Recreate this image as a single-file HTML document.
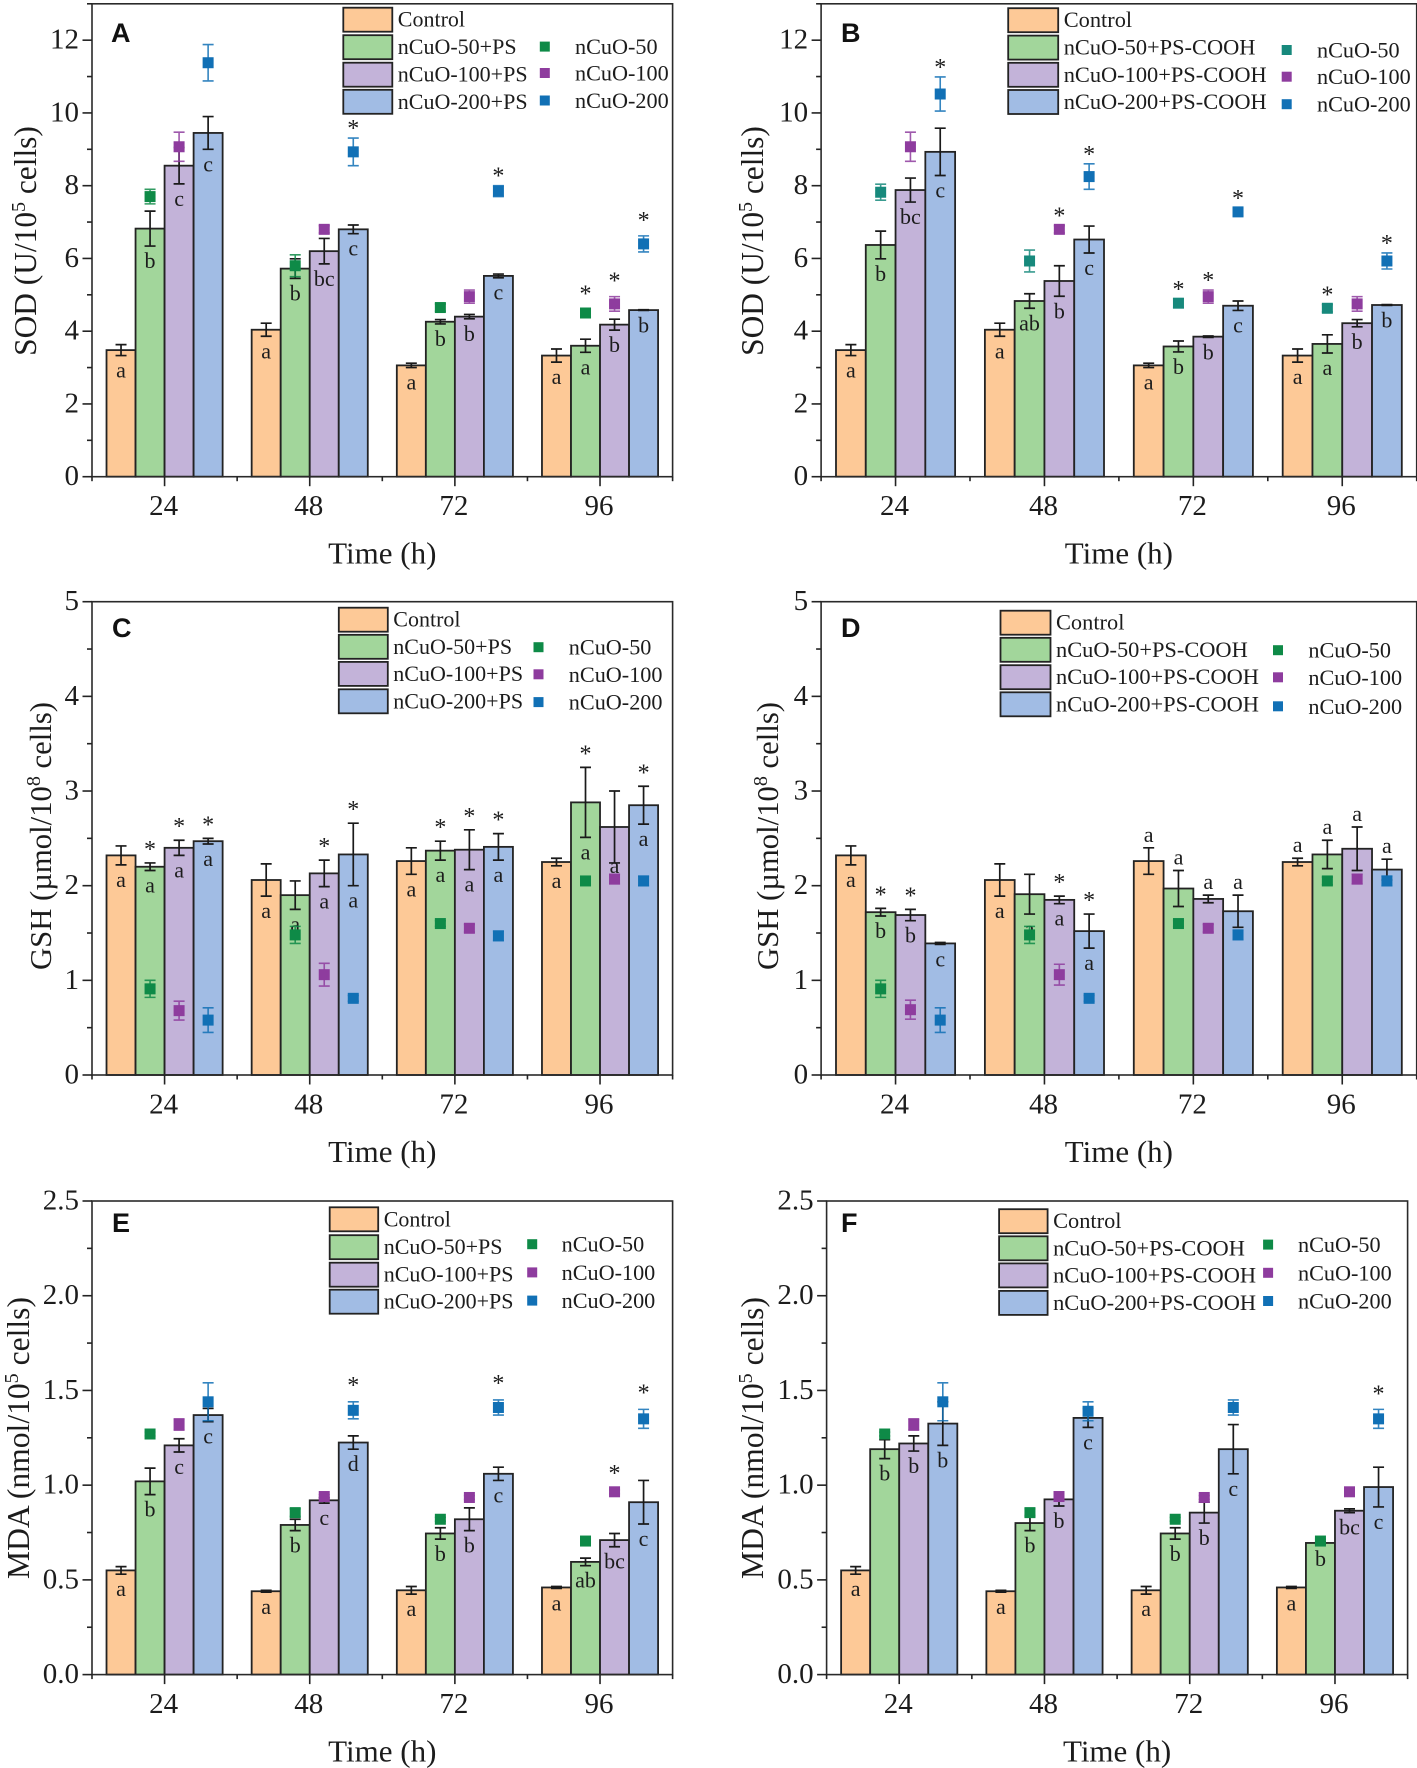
<!DOCTYPE html>
<html lang="en">
<head>
<meta charset="utf-8">
<title>SOD, GSH and MDA responses to nCuO and polystyrene</title>
<style>
html,body{margin:0;padding:0;background:#fff;width:1417px;height:1768px;overflow:hidden}
svg{display:block}
text{font-family:"Liberation Serif","DejaVu Serif",serif;fill:#1c1c1c}
.panel-letter{font-family:"Liberation Sans","DejaVu Sans",sans-serif;font-weight:700;font-size:27px;fill:#111}
</style>
</head>
<body>
<svg id="figure" xmlns="http://www.w3.org/2000/svg" width="1417" height="1768" viewBox="0 0 1417 1768"></svg>
<script>
// ---------- shared data ----------
const categories = ['24', '48', '72', '96'];
const sodTicks = [0, 2, 4, 6, 8, 10, 12];
const gshTicks = [0, 1, 2, 3, 4, 5];
const mdaTicks = [0, 0.5, 1.0, 1.5, 2.0, 2.5];

// Panel A - SOD, PS
const aControl = [3.48, 4.04, 3.06, 3.33];
const aControlErr = [0.15, 0.18, 0.06, 0.18];
const aBar50 = [6.82, 5.72, 4.26, 3.60];
const aBar50Err = [0.48, 0.27, 0.06, 0.18];
const aBar100 = [8.55, 6.20, 4.40, 4.18];
const aBar100Err = [0.50, 0.35, 0.06, 0.15];
const aBar200 = [9.45, 6.80, 5.52, 4.58];
const aBar200Err = [0.45, 0.12, 0.05, 0.01];
const aDot50 = [7.70, 5.80, 4.65, 4.50];
const aDot50Err = [0.20, 0.30, 0.10, 0.10];
const aDot100 = [9.07, 6.80, 4.95, 4.75];
const aDot100Err = [0.40, 0.10, 0.18, 0.20];
const aDot200 = [11.38, 8.93, 7.85, 6.40];
const aDot200Err = [0.50, 0.38, 0.15, 0.22];
const aLetters = [['a','a','a','a'],['b','b','b','a'],['c','bc','b','b'],['c','c','c','b']];
const aDotStars = [[0,0,0,1],[0,0,0,1],[0,1,1,1]];
const aBarStars = [[0,0,0,0],[0,0,0,0],[0,0,0,0],[0,0,0,0]];

// Panel B - SOD, PS-COOH
const bControl = [3.48, 4.04, 3.06, 3.33];
const bControlErr = [0.15, 0.18, 0.06, 0.18];
const bBar50 = [6.37, 4.83, 3.58, 3.65];
const bBar50Err = [0.38, 0.20, 0.15, 0.25];
const bBar100 = [7.88, 5.38, 3.85, 4.22];
const bBar100Err = [0.33, 0.42, 0.02, 0.10];
const bBar200 = [8.93, 6.52, 4.70, 4.72];
const bBar200Err = [0.65, 0.37, 0.13, 0.01];
const bDot50 = [7.82, 5.93, 4.77, 4.63];
const bDot50Err = [0.22, 0.30, 0.12, 0.10];
const bDot100 = [9.07, 6.80, 4.95, 4.75];
const bDot100Err = [0.40, 0.10, 0.18, 0.20];
const bDot200 = [10.52, 8.25, 7.28, 5.93];
const bDot200Err = [0.47, 0.35, 0.10, 0.22];
const bLetters = [['a','a','a','a'],['b','ab','b','a'],['bc','b','b','b'],['c','c','c','b']];
const bDotStars = [[0,0,1,1],[0,1,1,0],[1,1,1,1]];
const bBarStars = [[0,0,0,0],[0,0,0,0],[0,0,0,0],[0,0,0,0]];

// Panel C - GSH, PS
const cControl = [2.32, 2.06, 2.26, 2.25];
const cControlErr = [0.10, 0.17, 0.14, 0.04];
const cBar50 = [2.20, 1.90, 2.37, 2.88];
const cBar50Err = [0.04, 0.15, 0.10, 0.37];
const cBar100 = [2.40, 2.13, 2.38, 2.62];
const cBar100Err = [0.08, 0.14, 0.21, 0.38];
const cBar200 = [2.47, 2.33, 2.41, 2.85];
const cBar200Err = [0.03, 0.33, 0.14, 0.20];
const cDot50 = [0.91, 1.48, 1.60, 2.05];
const cDot50Err = [0.09, 0.09, 0.03, 0.04];
const cDot100 = [0.68, 1.06, 1.55, 2.07];
const cDot100Err = [0.10, 0.12, 0.04, 0.05];
const cDot200 = [0.58, 0.81, 1.47, 2.05];
const cDot200Err = [0.13, 0.03, 0.05, 0.05];
const cLetters = [['a','a','a','a'],['a','a','a','a'],['a','a','a','a'],['a','a','a','a']];
const cDotStars = [[0,0,0,0],[0,0,0,0],[0,0,0,0]];
const cBarStars = [[0,0,0,0],[1,0,1,1],[1,1,1,0],[1,1,1,1]];

// Panel D - GSH, PS-COOH
const dControl = [2.32, 2.06, 2.26, 2.25];
const dControlErr = [0.10, 0.17, 0.14, 0.04];
const dBar50 = [1.72, 1.91, 1.97, 2.33];
const dBar50Err = [0.04, 0.21, 0.19, 0.15];
const dBar100 = [1.69, 1.85, 1.86, 2.39];
const dBar100Err = [0.06, 0.04, 0.04, 0.23];
const dBar200 = [1.39, 1.52, 1.73, 2.17];
const dBar200Err = [0.01, 0.18, 0.17, 0.11];
const dDot50 = [0.91, 1.48, 1.60, 2.05];
const dDot50Err = [0.09, 0.09, 0.03, 0.04];
const dDot100 = [0.69, 1.06, 1.55, 2.07];
const dDot100Err = [0.10, 0.11, 0.04, 0.05];
const dDot200 = [0.58, 0.81, 1.48, 2.05];
const dDot200Err = [0.13, 0.03, 0.05, 0.05];
const dLetters = [['a','a','a','a'],['b','a','a','a'],['b','a','a','a'],['c','a','a','a']];
const dLettersAbove = [[0,0,1,1],[0,0,1,1],[0,0,1,1],[0,0,1,1]];
const dDotStars = [[0,0,0,0],[0,0,0,0],[0,0,0,0]];
const dBarStars = [[0,0,0,0],[1,0,0,0],[1,1,0,0],[0,1,0,0]];

// Panel E - MDA, PS
const eControl = [0.55, 0.44, 0.445, 0.46];
const eControlErr = [0.02, 0.005, 0.02, 0.005];
const eBar50 = [1.02, 0.79, 0.745, 0.595];
const eBar50Err = [0.07, 0.03, 0.03, 0.02];
const eBar100 = [1.21, 0.92, 0.82, 0.71];
const eBar100Err = [0.035, 0.015, 0.06, 0.035];
const eBar200 = [1.37, 1.225, 1.06, 0.91];
const eBar200Err = [0.035, 0.035, 0.035, 0.115];
const eDot50 = [1.27, 0.855, 0.82, 0.705];
const eDot50Err = [0.01, 0.02, 0.01, 0.01];
const eDot100 = [1.32, 0.94, 0.935, 0.965];
const eDot100Err = [0.03, 0.01, 0.01, 0.01];
const eDot200 = [1.44, 1.395, 1.41, 1.35];
const eDot200Err = [0.10, 0.045, 0.04, 0.05];
const eLetters = [['a','a','a','a'],['b','b','b','ab'],['c','c','b','bc'],['c','d','c','c']];
const eDotStars = [[0,0,0,0],[0,0,0,1],[0,1,1,1]];
const eBarStars = [[0,0,0,0],[0,0,0,0],[0,0,0,0],[0,0,0,0]];

// Panel F - MDA, PS-COOH
const fControl = [0.55, 0.44, 0.445, 0.46];
const fControlErr = [0.02, 0.005, 0.02, 0.005];
const fBar50 = [1.19, 0.80, 0.745, 0.695];
const fBar50Err = [0.05, 0.04, 0.03, 0.005];
const fBar100 = [1.22, 0.925, 0.855, 0.865];
const fBar100Err = [0.04, 0.035, 0.055, 0.01];
const fBar200 = [1.325, 1.355, 1.19, 0.99];
const fBar200Err = [0.115, 0.05, 0.13, 0.105];
const fDot50 = [1.27, 0.855, 0.82, 0.705];
const fDot50Err = [0.01, 0.02, 0.01, 0.01];
const fDot100 = [1.32, 0.94, 0.935, 0.965];
const fDot100Err = [0.03, 0.01, 0.01, 0.01];
const fDot200 = [1.44, 1.39, 1.41, 1.35];
const fDot200Err = [0.10, 0.05, 0.04, 0.05];
const fLetters = [['a','a','a','a'],['b','b','b','b'],['b','b','b','bc'],['b','c','c','c']];
const fDotStars = [[0,0,0,0],[0,0,0,0],[0,0,0,1]];
const fBarStars = [[0,0,0,0],[0,0,0,0],[0,0,0,0],[0,0,0,0]];

// ---------- styles ----------
const barFills = ['#FDC997', '#A2D69B', '#C3B3D9', '#A1BCE4'];
const ink = '#232323';
const SVGNS = 'http://www.w3.org/2000/svg';
const root = document.getElementById('figure');

function make(parent, tag, attrs, text) {
  const el = document.createElementNS(SVGNS, tag);
  for (const k in attrs) el.setAttribute(k, attrs[k]);
  if (text !== undefined) el.textContent = text;
  parent.appendChild(el);
  return el;
}

function drawPanel(p) {
  const g = make(root, 'g', {});
  
  

  const band = (p.right - p.left) / categories.length;
  const barW = band * 0.2;
  const xCenter = i => p.left + band * (i + 0.5);
  const xBar = (i, s) => xCenter(i) + (s - 2) * barW;
  const y = v => p.base - (v / p.yMax) * (p.base - p.top);

  // bars
  p.bars.forEach((series, s) => {
    series.forEach((v, i) => {
      const bar = make(g, 'rect', {x: xBar(i, s), y: y(v), width: barW, height: p.base - y(v), fill: barFills[s], stroke: ink, 'stroke-width': 1.8});
      
      
    });
  });

  // bar error bars, letters, stars
  p.bars.forEach((series, s) => {
    series.forEach((v, i) => {
      const cx = xBar(i, s) + barW / 2;
      const e = p.barErrs[s][i];
      const err = make(g, 'path', {d: `M${cx - 5.5} ${y(v + e)}H${cx + 5.5}M${cx} ${y(v + e)}V${y(v - e)}M${cx - 5.5} ${y(v - e)}H${cx + 5.5}`, stroke: '#1a1a1a', 'stroke-width': 1.7, fill: 'none'});
      
      

      const above = p.lettersAbove && p.lettersAbove[s][i];
      const raise = p.raiseLetter && p.raiseLetter(s, i) ? 12 : 0;
      const ly = (above ? y(v + e) - 6 : y(v - e) + 22) - raise;
      const letter = make(g, 'text', {x: cx, y: ly, 'text-anchor': 'middle', 'font-size': 22}, p.letters[s][i]);
      
      

      if (p.barStars[s][i]) {
        const star = make(g, 'text', {x: cx, y: y(v + e) - 6, 'text-anchor': 'middle', 'font-size': 24}, '*');
        
        
      }
    });
  });

  // markers
  p.dots.forEach((series, m) => {
    series.forEach((v, i) => {
      const cx = xBar(i, m + 1) + barW / 2;
      const e = p.dotErrs[m][i];
      const dotErr = make(g, 'path', {d: `M${cx - 5.5} ${y(v + e)}H${cx + 5.5}M${cx} ${y(v + e)}V${y(v - e)}M${cx - 5.5} ${y(v - e)}H${cx + 5.5}`, stroke: p.dotColors[m], 'stroke-width': 1.6, fill: 'none', opacity: 0.85});
      
      

      const dot = make(g, 'rect', {x: cx - 5.5, y: y(v) - 5.5, width: 11, height: 11, fill: p.dotColors[m]});
      
      

      if (p.dotStars[m][i]) {
        const lift = p.starLift ? p.starLift(m, i) : 0;
        const star = make(g, 'text', {x: cx, y: y(v + e) - 2 - lift, 'text-anchor': 'middle', 'font-size': 24}, '*');
        
        
      }
    });
  });

  // axes frame
  const frame = make(g, 'rect', {x: p.left, y: p.top, width: p.right - p.left, height: p.base - p.top, fill: 'none', stroke: '#2a2a2a', 'stroke-width': 1.6});
  
  

  // x axis ticks and labels
  categories.forEach((c, i) => {
    const tick = make(g, 'line', {x1: xCenter(i), x2: xCenter(i), y1: p.base, y2: p.base + 9.5, stroke: ink, 'stroke-width': 1.6});
    
    

    const label = make(g, 'text', {x: xCenter(i) - 1, y: p.base + 38.5, 'text-anchor': 'middle', 'font-size': 29}, c);
    
    
  });
  for (let i = 0; i <= categories.length; i++) {
    const minor = make(g, 'line', {x1: p.left + band * i, x2: p.left + band * i, y1: p.base, y2: p.base + 4.5, stroke: ink, 'stroke-width': 1.6});
    
    
  }

  // y axis ticks and labels
  p.ticks.forEach((t, i) => {
    const tick = make(g, 'line', {x1: p.left - 9.5, x2: p.left, y1: y(t), y2: y(t), stroke: ink, 'stroke-width': 1.6});
    
    

    const label = make(g, 'text', {x: p.left - 13, y: y(t) + 8.5, 'text-anchor': 'end', 'font-size': 29}, p.tickFormat(t));
    
    

    const step = p.ticks[1] - p.ticks[0];
    if (t + step / 2 <= p.yMax) {
      const minor = make(g, 'line', {x1: p.left - 5, x2: p.left, y1: y(t + step / 2), y2: y(t + step / 2), stroke: ink, 'stroke-width': 1.6});
      
      
    }
  });

  // axis titles
  const xTitle = make(g, 'text', {x: (p.left + p.right) / 2, y: p.base + 87, 'text-anchor': 'middle', 'font-size': 31}, 'Time (h)');
  
  

  const yTitle = make(g, 'text', {transform: `translate(${p.titleX} ${p.titleY}) rotate(-90)`, 'text-anchor': 'middle', 'font-size': p.titleSize});
  
  
  make(yTitle, 'tspan', {}, p.title[0]);
  make(yTitle, 'tspan', {dy: -11, 'font-size': 20}, p.title[1]);
  make(yTitle, 'tspan', {dy: 11}, p.title[2]);

  // panel letter
  const panelLetter = make(g, 'text', {x: p.letterX, y: p.letterY, class: 'panel-letter'}, p.name);
  
  

  // legend
  const swatchLabels = ['Control', 'nCuO-50+' + p.particle, 'nCuO-100+' + p.particle, 'nCuO-200+' + p.particle];
  const dotLabels = ['nCuO-50', 'nCuO-100', 'nCuO-200'];
  swatchLabels.forEach((t, i) => {
    const swatch = make(g, 'rect', {x: p.swatchX, y: p.swatchY[i], width: p.swatchW, height: 24, fill: barFills[i], stroke: ink, 'stroke-width': 1.8});
    
    

    const label = make(g, 'text', {x: p.swatchX + p.swatchW + 5.5, y: p.swatchY[i] + 19, 'font-size': p.particle === 'PS' ? 22 : 22.4}, t);
    
    
  });
  dotLabels.forEach((t, i) => {
    const key = make(g, 'rect', {x: p.keyX - 5, y: p.keyY[i] - 5, width: 10, height: 10, fill: p.dotColors[i]});
    
    

    const label = make(g, 'text', {x: p.keyLabelX, y: p.keyY[i] + 7.5, 'font-size': 22.2}, t);
    
    
  });
}

const greenSet = ['#0E8A47', '#8E3C9E', '#1170B5'];
const tealSet = ['#17897C', '#8E3C9E', '#1170B5'];
const intFmt = t => String(t);
const oneFmt = t => t.toFixed(1);

drawPanel({name: 'A', particle: 'PS', left: 92, right: 672.6, top: 3.8, base: 476.7, yMax: 13, ticks: sodTicks, tickFormat: intFmt,
  bars: [aControl, aBar50, aBar100, aBar200], barErrs: [aControlErr, aBar50Err, aBar100Err, aBar200Err],
  dots: [aDot50, aDot100, aDot200], dotErrs: [aDot50Err, aDot100Err, aDot200Err], dotColors: greenSet,
  letters: aLetters, dotStars: aDotStars, barStars: aBarStars, starLift: (m, i) => i === 3 ? 6 : 0,
  title: ['SOD (U/10', '5', ' cells)'], titleSize: 31.4, titleX: 36, titleY: 241, letterX: 111, letterY: 42,
  swatchX: 343.3, swatchW: 49, swatchY: [7.7, 35.2, 62.7, 89.8], keyX: 544.8, keyY: [46.6, 73, 100.5], keyLabelX: 575});

drawPanel({name: 'B', particle: 'PS-COOH', left: 821.1, right: 1416.7, top: 3.8, base: 476.7, yMax: 13, ticks: sodTicks, tickFormat: intFmt,
  bars: [bControl, bBar50, bBar100, bBar200], barErrs: [bControlErr, bBar50Err, bBar100Err, bBar200Err],
  dots: [bDot50, bDot100, bDot200], dotErrs: [bDot50Err, bDot100Err, bDot200Err], dotColors: tealSet,
  letters: bLetters, dotStars: bDotStars, barStars: bBarStars,
  title: ['SOD (U/10', '5', ' cells)'], titleSize: 31.4, titleX: 763, titleY: 241, letterX: 841, letterY: 42,
  swatchX: 1008.2, swatchW: 50, swatchY: [8.2, 35.6, 62.8, 90], keyX: 1286.7, keyY: [50, 76.7, 104.2], keyLabelX: 1317});

drawPanel({name: 'C', particle: 'PS', left: 92, right: 672.6, top: 601.7, base: 1075, yMax: 5, ticks: gshTicks, tickFormat: intFmt,
  bars: [cControl, cBar50, cBar100, cBar200], barErrs: [cControlErr, cBar50Err, cBar100Err, cBar200Err],
  dots: [cDot50, cDot100, cDot200], dotErrs: [cDot50Err, cDot100Err, cDot200Err], dotColors: greenSet,
  letters: cLetters, dotStars: cDotStars, barStars: cBarStars, raiseLetter: (s, i) => s === 2 && i === 3,
  title: ['GSH (\u00b5mol/10', '8', ' cells)'], titleSize: 30.7, titleX: 51, titleY: 836, letterX: 112, letterY: 637,
  swatchX: 338.8, swatchW: 49, swatchY: [607.7, 634.8, 661.9, 689.3], keyX: 538.5, keyY: [647.2, 674.3, 702.1], keyLabelX: 568.8});

drawPanel({name: 'D', particle: 'PS-COOH', left: 821.1, right: 1416.7, top: 601.7, base: 1075, yMax: 5, ticks: gshTicks, tickFormat: intFmt,
  bars: [dControl, dBar50, dBar100, dBar200], barErrs: [dControlErr, dBar50Err, dBar100Err, dBar200Err],
  dots: [dDot50, dDot100, dDot200], dotErrs: [dDot50Err, dDot100Err, dDot200Err], dotColors: greenSet,
  letters: dLetters, lettersAbove: dLettersAbove, dotStars: dDotStars, barStars: dBarStars,
  title: ['GSH (\u00b5mol/10', '8', ' cells)'], titleSize: 30.7, titleX: 778, titleY: 836, letterX: 841, letterY: 637,
  swatchX: 1000.5, swatchW: 50, swatchY: [610.7, 637.8, 665.2, 692.3], keyX: 1278, keyY: [650.2, 677.3, 706.3], keyLabelX: 1308.4});

drawPanel({name: 'E', particle: 'PS', left: 92, right: 672.6, top: 1201, base: 1674.6, yMax: 2.5, ticks: mdaTicks, tickFormat: oneFmt,
  bars: [eControl, eBar50, eBar100, eBar200], barErrs: [eControlErr, eBar50Err, eBar100Err, eBar200Err],
  dots: [eDot50, eDot100, eDot200], dotErrs: [eDot50Err, eDot100Err, eDot200Err], dotColors: greenSet,
  letters: eLetters, dotStars: eDotStars, barStars: eBarStars, starLift: () => 7,
  title: ['MDA (nmol/10', '5', ' cells)'], titleSize: 31.6, titleX: 29, titleY: 1438, letterX: 112, letterY: 1232,
  swatchX: 329.7, swatchW: 48.5, swatchY: [1207.3, 1235.2, 1262.7, 1289.7], keyX: 532.2, keyY: [1244.2, 1272.4, 1300.6], keyLabelX: 561.6});

drawPanel({name: 'F', particle: 'PS-COOH', left: 826.6, right: 1407.6, top: 1201, base: 1674.6, yMax: 2.5, ticks: mdaTicks, tickFormat: oneFmt,
  bars: [fControl, fBar50, fBar100, fBar200], barErrs: [fControlErr, fBar50Err, fBar100Err, fBar200Err],
  dots: [fDot50, fDot100, fDot200], dotErrs: [fDot50Err, fDot100Err, fDot200Err], dotColors: greenSet,
  letters: fLetters, dotStars: fDotStars, barStars: fBarStars, starLift: () => 6,
  title: ['MDA (nmol/10', '5', ' cells)'], titleSize: 31.6, titleX: 763, titleY: 1438, letterX: 841, letterY: 1232,
  swatchX: 999.1, swatchW: 48.5, swatchY: [1209.2, 1236.3, 1263.4, 1290.9], keyX: 1268.1, keyY: [1244.6, 1272.8, 1301], keyLabelX: 1298});
</script>
</body>
</html>
